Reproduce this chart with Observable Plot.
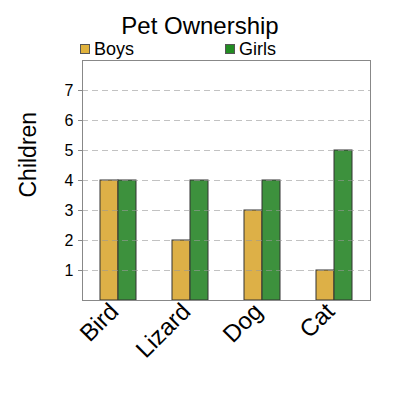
<!DOCTYPE html>
<html><head><meta charset="utf-8">
<script src="https://cdn.jsdelivr.net/npm/d3@7"></script>
<script src="https://cdn.jsdelivr.net/npm/@observablehq/plot@0.6"></script>
<style>
body{margin:0;font-family:"Liberation Sans",Arial,sans-serif;background:#fff}
#wrap{position:relative;width:400px;height:400px}
#chart{position:absolute;left:0;top:0}
#title{position:absolute;left:0;width:400px;top:12px;text-align:center;font-size:24px;line-height:28px}
.leg{position:absolute;top:38px;font-size:18px;line-height:22px;display:flex;align-items:center}
.sw{width:8px;height:8px;border:1px solid #555;margin-right:4px}
</style></head><body>
<div id="wrap"><div id="chart"></div><div id="title">Pet Ownership</div><div id="legend"></div></div>
<script>
const pets = ["Bird","Lizard","Dog","Cat"];
const genders = ["Boys","Girls"];
const boys = [4,2,3,1];
const girls = [4,4,4,5];
const barColors = ["#ddb047","#3d913d"];
const legendColors = ["#e0b23c","#228c22"];
const legendX = [80,225];
const yTicks = [1,2,3,4,5,6,7];

const data = pets.flatMap((p,i)=>[
  {pet:p,gender:"Boys",count:boys[i]},
  {pet:p,gender:"Girls",count:girls[i]}
]);

const plot = Plot.plot({
  width:400,height:400,marginLeft:80,marginRight:29,marginTop:60,marginBottom:100,
  style:{fontFamily:'"Liberation Sans",Arial,sans-serif',fontSize:"16px",color:"#000",background:"transparent"},
  fx:{domain:pets,padding:0,label:null},
  x:{domain:genders,paddingInner:0,paddingOuter:1,axis:null},
  y:{domain:[0,8],label:null},
  color:{domain:genders,range:barColors},
  marks:[
    Plot.barY(data,{fx:"pet",x:"gender",y:"count",fill:"gender",stroke:"#333",strokeWidth:1}),
    Plot.gridY(yTicks,{stroke:"#999",strokeOpacity:0.6,strokeDasharray:"6,4"}),
    Plot.frame({facet:"super",stroke:"#888"}),
    Plot.axisY(yTicks,{tickSize:4,tickPadding:5,fontSize:16,stroke:"#888",label:null}),
    Plot.axisFx({anchor:"bottom",tickRotate:-45,tickSize:0,tickPadding:3,fontSize:24,dx:-4,dy:4,label:null}),
    Plot.text(["Children"],{facet:"super",frameAnchor:"left",rotate:-90,dx:-54,dy:17,fontSize:23})
  ]
});
document.getElementById("chart").appendChild(plot);

const leg = document.getElementById("legend");
genders.forEach((g,i)=>{
  const d = document.createElement("div");
  d.className="leg";
  d.style.left = legendX[i]+"px";
  d.innerHTML = `<span class="sw" style="background:${legendColors[i]}"></span>${g}`;
  leg.appendChild(d);
});
</script>
</body></html>
